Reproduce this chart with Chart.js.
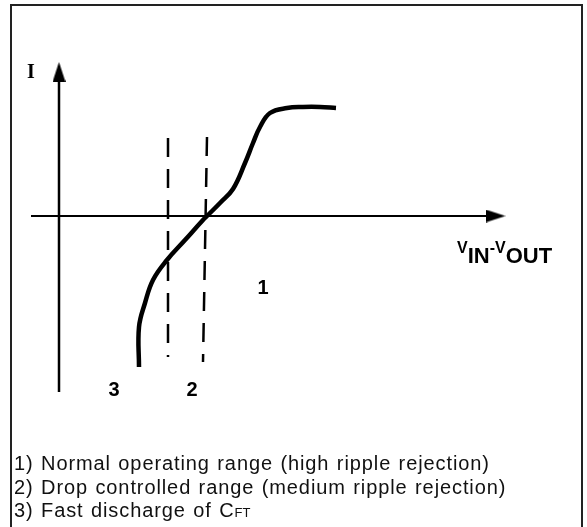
<!DOCTYPE html>
<html>
<head>
<meta charset="utf-8">
<script src="https://cdn.jsdelivr.net/npm/chart.js@4.4.1/dist/chart.umd.min.js"></script>
<style>
  body { margin: 0; background: #fff; }
  #wrap { position: relative; width: 587px; height: 527px; overflow: hidden; }
  #frame { position: absolute; left: 10px; top: 4px; width: 573px; height: 540px;
           border: 2px solid #222; box-sizing: border-box; }
  canvas { position: absolute; left: 0; top: 0; }
  #notes { position: absolute; left: 14px; top: 452px; font-family: "Liberation Sans", Arial, sans-serif;
           font-size: 20px; line-height: 23.5px; letter-spacing: 0.9px; word-spacing: 1px; color: #111; }
  #notes small { font-size: 13px; letter-spacing: 0; }
</style>
</head>
<body>
<div id="wrap">
  <div id="frame"></div>
  <canvas id="myChart" width="587" height="527"></canvas>
  <div id="notes">
    <div>1) Normal operating range (high ripple rejection)</div>
    <div>2) Drop controlled range (medium ripple rejection)</div>
    <div>3) Fast discharge of C<small>FT</small></div>
  </div>
</div>
<script>
// characteristic curve I vs (VIN - VOUT), origin at the axes crossing
const curveX = [80, 80, 86, 94, 108, 126, 144, 148, 161, 174, 186, 194, 201, 211, 228, 244, 261, 277];
const curveY = [-151, -111, -87, -64, -44, -24, -4, 0, 13, 27, 53, 73, 89, 103, 108, 109, 109, 108];

// range borders (dashed)
const dashLeftX = [109, 109];
const dashLeftY = [78, -141];
const dashRightX = [148, 144];
const dashRightY = [79, -146];

// axes
const xAxisX = [-28, 436];
const xAxisY = [0, 0];
const yAxisX = [0, 0];
const yAxisY = [-176, 140];
const arrowX = [436.5, 0];
const arrowY = [0, 144];
const arrowRot = [90, 0];

// region labels
const labelText = ["I", "1", "3", "2"];
const labelX = [-28, 204, 55, 133];
const labelY = [143, -72, -174, -174];

const toPts = (xs, ys) => xs.map((x, i) => ({ x: x, y: ys[i] }));

const arrowImg = document.createElement("canvas");
arrowImg.width = 13;
arrowImg.height = 20;
const actx = arrowImg.getContext("2d");
actx.fillStyle = "#000";
actx.beginPath();
actx.moveTo(6.5, 0);
actx.lineTo(13, 20);
actx.lineTo(0, 20);
actx.closePath();
actx.fill();

const labelsPlugin = {
    id: "labels",
    afterDatasetsDraw(chart) {
        const ctx = chart.ctx;
        const sx = chart.scales.x, sy = chart.scales.y;
        ctx.save();
        ctx.fillStyle = "#000";
        ctx.textAlign = "center";
        ctx.textBaseline = "middle";
        for (let i = 0; i < labelText.length; i++) {
            ctx.font = i === 0 ? "bold 20px 'Liberation Serif'" : "bold 20px 'Liberation Sans'";
            ctx.fillText(labelText[i], sx.getPixelForValue(labelX[i]), sy.getPixelForValue(labelY[i]));
        }
        // axis name VIN-VOUT
        const parts = [["V", 16, -10], ["IN", 22, 0], ["-", 16, -10], ["V", 16, -10], ["OUT", 22, 0]];
        let px = sx.getPixelForValue(398);
        const base = sy.getPixelForValue(-47);
        ctx.textAlign = "left";
        ctx.textBaseline = "alphabetic";
        for (const [t, size, dy] of parts) {
            ctx.font = "bold " + size + "px 'Liberation Sans'";
            ctx.fillText(t, px, base + dy);
            px += ctx.measureText(t).width;
        }
        ctx.restore();
    }
};

const myChartElement = document.getElementById("myChart");

const options = {
    type: "scatter",
    data: {
        datasets: [{
            data: toPts(xAxisX, xAxisY),
            showLine: true, borderColor: "#000", borderWidth: 2, pointRadius: 0
        }, {
            data: toPts(yAxisX, yAxisY),
            showLine: true, borderColor: "#000", borderWidth: 2.5, pointRadius: 0
        }, {
            data: toPts(arrowX, arrowY),
            pointStyle: arrowImg, rotation: arrowRot, pointRadius: 10
        }, {
            data: toPts(dashLeftX, dashLeftY),
            showLine: true, borderColor: "#000", borderWidth: 2.5, borderDash: [19, 12], pointRadius: 0
        }, {
            data: toPts(dashRightX, dashRightY),
            showLine: true, borderColor: "#000", borderWidth: 2.5, borderDash: [19, 12], pointRadius: 0
        }, {
            data: toPts(curveX, curveY),
            showLine: true, borderColor: "#000", borderWidth: 4.5, tension: 0.4,
            borderCapStyle: "butt", pointRadius: 0
        }]
    },
    options: {
        responsive: false,
        animation: false,
        devicePixelRatio: 1,
        layout: { padding: 0, autoPadding: false },
        plugins: { legend: { display: false }, tooltip: { enabled: false } },
        scales: {
            x: { type: "linear", min: -59, max: 528, display: false },
            y: { type: "linear", min: -311, max: 216, display: false }
        }
    },
    plugins: [labelsPlugin]
};
new Chart(myChartElement, options);
</script>
</body>
</html>
